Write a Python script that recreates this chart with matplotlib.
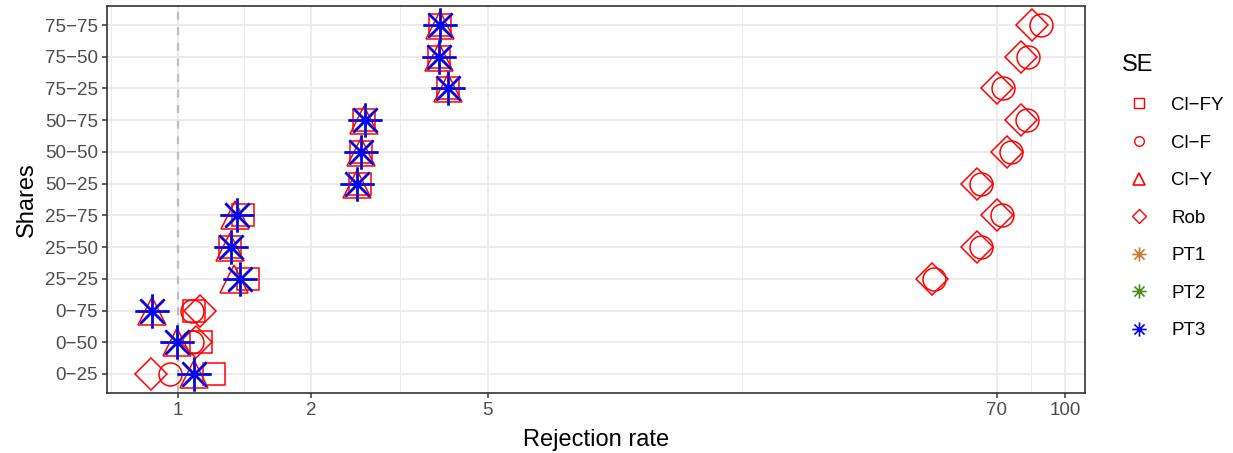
import numpy as np
import matplotlib
matplotlib.use("Agg")
import matplotlib.pyplot as plt
from matplotlib.path import Path
from matplotlib.ticker import FixedLocator, NullFormatter

plt.rcParams['font.family'] = ['Liberation Sans', 'DejaVu Sans']

# share combinations, bottom to top
shares = ["0−25", "0−50", "0−75", "25−25", "25−50", "25−75",
          "50−25", "50−50", "50−75", "75−25", "75−50", "75−75"]

# rejection rates per standard-error type
cl_fy = [1.21, 1.13, 1.09, 1.44, 1.31, 1.40, 2.58, 2.59, 2.63, 4.06, 3.88, 3.90]
cl_f = [0.96, 1.075, 1.08, 50.5, 64.4, 71.8, 64.4, 75.6, 81.8, 72.2, 82.2, 87.9]
cl_y = [1.09, 0.995, 0.877, 1.34, 1.31, 1.35, 2.53, 2.59, 2.63, 4.06, 3.88, 3.90]
rob = [0.873, 1.10, 1.125, 50.0, 63.1, 70.3, 63.1, 73.7, 79.6, 70.3, 79.6, 83.9]
pt1 = [1.09, 0.995, 0.877, 1.38, 1.32, 1.36, 2.54, 2.59, 2.64, 4.07, 3.88, 3.90]
pt2 = [1.09, 0.995, 0.877, 1.38, 1.32, 1.36, 2.54, 2.59, 2.64, 4.07, 3.88, 3.90]
pt3 = [1.09, 0.995, 0.877, 1.38, 1.32, 1.36, 2.54, 2.59, 2.64, 4.07, 3.88, 3.90]

x_breaks = [1, 2, 5, 70, 100]

# 8-armed asterisk like R's pch 8
c = np.sqrt(0.5)
ast_verts = [(-1, 0), (1, 0), (0, -1), (0, 1), (-c, -c), (c, c), (-c, c), (c, -c)]
ast_codes = [Path.MOVETO, Path.LINETO] * 4
asterisk = Path(ast_verts, ast_codes)

series = [
    ("Cl−FY", cl_fy, "s", "#FF0000", 16, 1.1),
    ("Cl−F", cl_f, "o", "#FF0000", 16.5, 1.1),
    ("Cl−Y", cl_y, "^", "#FF0000", 20, 1.1),
    ("Rob", rob, "D", "#FF0000", 15.8, 1.1),
    ("PT1", pt1, asterisk, "#CD7A32", 24.5, 1.8),
    ("PT2", pt2, asterisk, "#4A8C1C", 24.5, 1.8),
    ("PT3", pt3, asterisk, "#0000FF", 24.5, 1.8),
]

fig = plt.figure(figsize=(12.33, 4.53), dpi=100)
ax = fig.add_axes([107 / 1233, 60 / 453, (1085 - 107) / 1233, (393 - 6) / 453])

ypos = np.arange(len(shares))
for name, vals, mk, col, ms, lw in series:
    ax.plot(vals, ypos, linestyle="none", marker=mk, markersize=ms,
            markerfacecolor="none", markeredgecolor=col, markeredgewidth=lw,
            label=name, zorder=3)

ax.set_xscale("log")
allv = np.concatenate([cl_fy, cl_f, cl_y, rob, pt1, pt2, pt3])
lo, hi = np.log10(allv.min()), np.log10(allv.max())
span = hi - lo
ax.set_xlim(10 ** (lo - 0.05 * span), 10 ** (hi + 0.05 * span))
ax.set_ylim(-0.6, len(shares) - 0.4)

ax.xaxis.set_major_locator(FixedLocator(x_breaks))
ax.set_xticklabels([str(b) for b in x_breaks])
lb = np.log10([0.5] + x_breaks)
minor = 10 ** ((lb[:-1] + lb[1:]) / 2)
ax.xaxis.set_minor_locator(FixedLocator(minor))
ax.xaxis.set_minor_formatter(NullFormatter())
ax.tick_params(axis="x", which="minor", length=0)

ax.set_yticks(ypos)
ax.set_yticklabels(shares)

ax.grid(True, which="major", color="#EBEBEB", linewidth=1.3, zorder=0)
ax.grid(True, which="minor", axis="x", color="#EBEBEB", linewidth=0.7, zorder=0)
ax.set_axisbelow(True)
ax.axvline(1, color="#BEBEBE", linestyle=(0, (3.5, 3.5)), linewidth=1.6, zorder=1)

ax.tick_params(axis="both", which="major", length=3.6, width=1.1, color="#333333",
               labelcolor="#4D4D4D", labelsize=13.5, pad=3)
for s in ax.spines.values():
    s.set_color("#333333")
    s.set_linewidth(1.2)

ax.set_xlabel("Rejection rate", fontsize=17, labelpad=7)
ax.set_ylabel("Shares", fontsize=17, labelpad=5)

leg = fig.legend(loc="upper left", bbox_to_anchor=(1113 / 1233, 1 - 45 / 453),
                 frameon=False, title="SE", title_fontsize=17, fontsize=13.5,
                 markerscale=0.42, handlelength=1.8, handletextpad=0.8,
                 labelspacing=1.09, borderpad=0, alignment="left")
# thinner strokes for the small legend keys
for h in leg.legend_handles:
    h.set_markeredgewidth(1.2 if h.get_markersize() > 8 else 1.0)

plt.savefig("out.png", dpi=100)
